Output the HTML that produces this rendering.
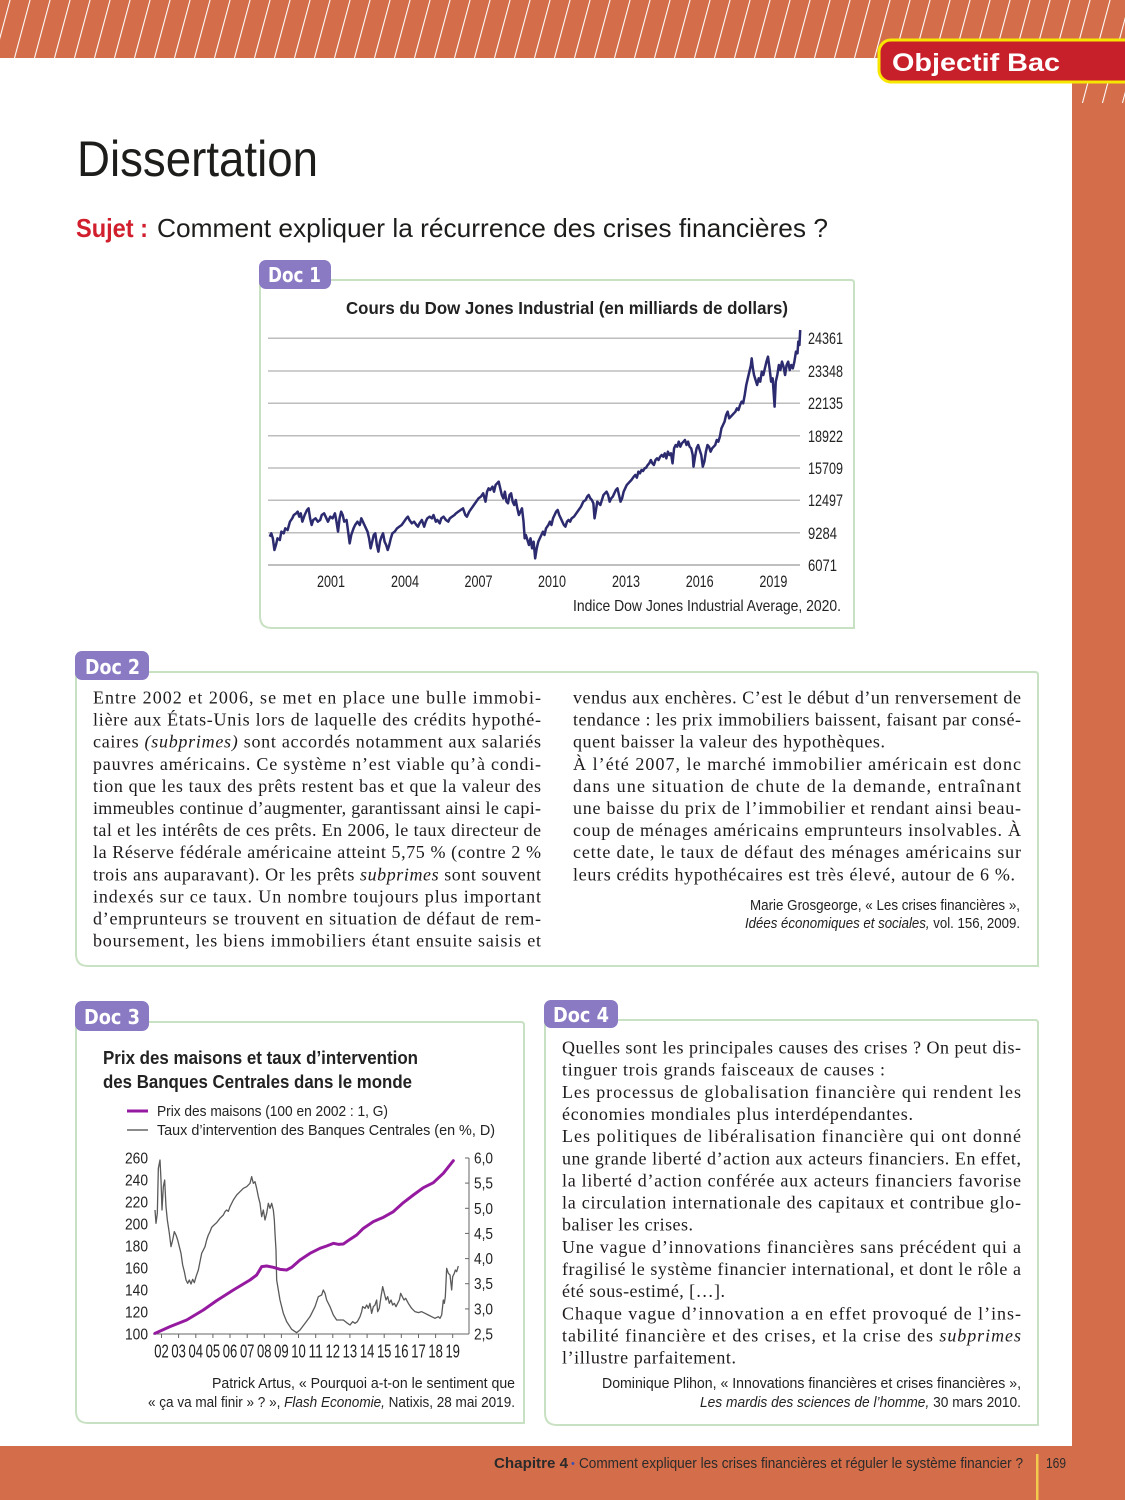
<!DOCTYPE html>
<html lang="fr"><head><meta charset="utf-8"><title>Dissertation</title>
<style>
html,body{margin:0;padding:0;background:#fff;}
svg{display:block;}
.b{font-family:"Liberation Serif",serif;font-size:18px;fill:#1f1b1c;}
.s{font-family:"Liberation Sans",sans-serif;fill:#222;}
.tab{font-family:"DejaVu Sans","Liberation Sans",sans-serif;font-weight:bold;font-size:20px;fill:#fff;}
</style></head>
<body>
<svg width="1125" height="1500" viewBox="0 0 1125 1500" xmlns="http://www.w3.org/2000/svg">
<defs>
<pattern id="h" width="20" height="20" patternUnits="userSpaceOnUse" patternTransform="skewX(-15)">
<rect x="9.5" y="0" width="1.1" height="20" fill="#fff"/>
</pattern>
</defs>
<rect width="1125" height="1500" fill="#fff"/>
<!-- orange frame -->
<rect x="0" y="0" width="1125" height="58" fill="#D46E4A"/>
<rect x="1072" y="0" width="53" height="1500" fill="#D46E4A"/>
<rect x="0" y="1446" width="1125" height="54" fill="#D46E4A"/>
<rect x="0" y="0" width="1125" height="58" fill="url(#h)"/>
<rect x="1072" y="58" width="53" height="45" fill="url(#h)"/>
<!-- badge -->
<path d="M1127,40 H891 a12,12 0 0 0 -12,12 V70 a12,12 0 0 0 12,12 H1127 Z" fill="#C8202B" stroke="#F7E600" stroke-width="3"/>
<text x="892" y="71" class="s" style="font-size:25px;font-weight:bold;fill:#fff" textLength="168" lengthAdjust="spacingAndGlyphs">Objectif Bac</text>

<!-- headings -->
<text x="77" y="176" class="s" style="font-size:50px;fill:#1d1d1b" textLength="241" lengthAdjust="spacingAndGlyphs">Dissertation</text>
<text x="76" y="237" class="s" style="font-size:26px;font-weight:bold;fill:#D11F2E" textLength="72" lengthAdjust="spacingAndGlyphs">Sujet :</text>
<text x="157" y="237" class="s" style="font-size:26px;fill:#1d1d1b" textLength="671" lengthAdjust="spacingAndGlyphs">Comment expliquer la récurrence des crises financières ?</text>

<!-- ================= DOC 1 ================= -->
<path d="M260,280 H851 Q854,280 854,283 V628 H272 Q260,628 260,616 Z" fill="#fff" stroke="#C9E1C3" stroke-width="2"/>
<rect x="259" y="260" width="72" height="29" rx="7" fill="#8A79C3"/>
<text x="268" y="282" class="tab" textLength="53" lengthAdjust="spacingAndGlyphs">Doc 1</text>
<text x="346" y="314" class="s" style="font-size:17.5px;font-weight:bold" textLength="442" lengthAdjust="spacingAndGlyphs">Cours du Dow Jones Industrial (en milliards de dollars)</text>
<g stroke="#BDBDBD" stroke-width="1.5">
<line x1="268" y1="338.3" x2="800" y2="338.3"/>
<line x1="268" y1="371" x2="800" y2="371"/>
<line x1="268" y1="403.3" x2="800" y2="403.3"/>
<line x1="268" y1="435.7" x2="800" y2="435.7"/>
<line x1="268" y1="468" x2="800" y2="468"/>
<line x1="268" y1="500.3" x2="800" y2="500.3"/>
<line x1="268" y1="532.7" x2="800" y2="532.7"/>
<line x1="268" y1="565" x2="800" y2="565" stroke="#AAAAAA"/>
</g>
<g class="s" style="font-size:17px">
<text x="808" y="344" textLength="35" lengthAdjust="spacingAndGlyphs">24361</text>
<text x="808" y="377" textLength="35" lengthAdjust="spacingAndGlyphs">23348</text>
<text x="808" y="409" textLength="35" lengthAdjust="spacingAndGlyphs">22135</text>
<text x="808" y="442" textLength="35" lengthAdjust="spacingAndGlyphs">18922</text>
<text x="808" y="474" textLength="35" lengthAdjust="spacingAndGlyphs">15709</text>
<text x="808" y="506" textLength="35" lengthAdjust="spacingAndGlyphs">12497</text>
<text x="808" y="539" textLength="29" lengthAdjust="spacingAndGlyphs">9284</text>
<text x="808" y="571" textLength="29" lengthAdjust="spacingAndGlyphs">6071</text>
<text x="317" y="587" textLength="28" lengthAdjust="spacingAndGlyphs">2001</text>
<text x="391" y="587" textLength="28" lengthAdjust="spacingAndGlyphs">2004</text>
<text x="464.5" y="587" textLength="28" lengthAdjust="spacingAndGlyphs">2007</text>
<text x="538" y="587" textLength="28" lengthAdjust="spacingAndGlyphs">2010</text>
<text x="612" y="587" textLength="28" lengthAdjust="spacingAndGlyphs">2013</text>
<text x="685.7" y="587" textLength="28" lengthAdjust="spacingAndGlyphs">2016</text>
<text x="759.4" y="587" textLength="28" lengthAdjust="spacingAndGlyphs">2019</text>
</g>
<g transform="translate(255,255) scale(0.38805,0.33333)">
<polyline fill="none" stroke="#2C2B6F" stroke-width="2.5" stroke-linejoin="round" vector-effect="non-scaling-stroke" points="38,845 42,835 46,850 50,885 54,870 58,850 64,855 68,830 74,835 78,820 84,825 90,800 96,790 100,780 106,775 110,770 114,785 118,775 122,800 128,780 134,765 138,760 142,790 146,810 150,795 156,790 162,800 168,795 172,780 178,775 184,790 188,800 194,785 200,790 206,775 210,800 214,830 218,790 222,770 226,780 230,800 236,795 240,830 244,865 248,840 254,820 258,810 264,800 270,810 274,790 278,800 284,815 290,830 294,850 298,880 302,860 306,840 310,835 314,870 318,890 322,860 326,845 330,835 334,860 338,870 342,885 346,870 350,850 354,835 360,830 366,820 372,815 378,810 384,800 390,790 394,785 398,795 404,805 410,800 416,810 420,815 424,805 430,795 436,815 440,800 444,790 450,785 456,790 460,780 466,800 470,795 476,805 480,790 486,785 492,795 498,800 502,790 508,785 514,780 518,775 524,770 530,765 536,760 542,780 546,785 552,770 558,760 564,750 570,740 576,730 582,725 588,715 594,740 598,710 602,700 606,705 612,695 616,710 620,690 624,685 628,680 632,700 636,720 640,730 644,710 648,740 652,745 656,720 660,715 664,740 668,750 672,735 676,760 680,780 684,770 688,760 692,800 695,850 698,840 702,855 706,870 710,850 714,880 718,860 722,910 726,880 730,860 734,850 738,840 742,830 746,840 750,820 756,810 760,800 764,810 768,790 772,780 776,770 780,765 784,780 788,790 792,800 796,810 800,815 804,800 808,795 812,800 816,790 822,785 828,775 834,765 840,755 846,740 852,735 856,725 860,720 864,730 868,735 872,745 875,790 878,770 882,740 886,745 890,750 894,735 898,720 902,715 906,710 910,720 914,740 918,730 922,725 926,715 930,705 934,700 938,720 942,740 946,730 950,710 954,700 958,690 962,685 966,680 970,675 976,665 980,660 984,668 988,650 992,655 996,645 1000,648 1004,640 1008,638 1012,630 1016,625 1020,615 1024,625 1028,630 1032,615 1036,610 1040,615 1044,605 1048,600 1052,605 1056,595 1060,610 1064,590 1068,600 1072,595 1076,625 1080,580 1084,570 1088,575 1092,560 1096,575 1100,565 1104,560 1108,555 1112,570 1116,560 1120,575 1124,580 1128,600 1130,635 1134,605 1138,580 1142,570 1146,585 1150,600 1154,635 1158,620 1162,590 1166,570 1170,575 1174,590 1178,580 1182,575 1186,570 1190,555 1194,560 1198,545 1202,520 1206,510 1210,500 1214,480 1218,470 1222,490 1226,485 1230,480 1234,475 1238,470 1242,460 1246,465 1250,450 1254,440 1258,445 1262,420 1266,390 1270,370 1274,350 1278,330 1280,310 1283,340 1286,360 1290,375 1294,390 1298,370 1302,380 1306,350 1310,360 1314,340 1318,320 1322,305 1326,340 1330,380 1334,370 1337,420 1339,455 1342,380 1346,360 1350,330 1354,345 1358,320 1362,335 1366,360 1370,330 1374,320 1378,345 1382,330 1386,340 1390,320 1394,290 1398,295 1400,260 1403,270 1405,225"/>
</g>
<text x="573" y="611" class="s" style="font-size:16px" textLength="268" lengthAdjust="spacingAndGlyphs">Indice Dow Jones Industrial Average, 2020.</text>

<!-- ================= DOC 2 ================= -->
<path d="M76,672 H1035 Q1038,672 1038,675 V966 H88 Q76,966 76,954 Z" fill="#fff" stroke="#C9E1C3" stroke-width="2"/>
<rect x="75" y="651" width="74" height="29" rx="7" fill="#8A79C3"/>
<text x="85" y="674" class="tab" textLength="55" lengthAdjust="spacingAndGlyphs">Doc 2</text>
<g class="b">
<text x="93" y="703.5" textLength="448" lengthAdjust="spacing">Entre 2002 et 2006, se met en place une bulle immobi-</text>
<text x="93" y="725.6" textLength="448" lengthAdjust="spacing">lière aux États-Unis lors de laquelle des crédits hypothé-</text>
<text x="93" y="747.7" textLength="448" lengthAdjust="spacing">caires <tspan font-style="italic">(subprimes)</tspan> sont accordés notamment aux salariés</text>
<text x="93" y="769.8" textLength="448" lengthAdjust="spacing">pauvres américains. Ce système n’est viable qu’à condi-</text>
<text x="93" y="791.9" textLength="448" lengthAdjust="spacing">tion que les taux des prêts restent bas et que la valeur des</text>
<text x="93" y="814" textLength="448" lengthAdjust="spacing">immeubles continue d’augmenter, garantissant ainsi le capi-</text>
<text x="93" y="836.1" textLength="448" lengthAdjust="spacing">tal et les intérêts de ces prêts. En 2006, le taux directeur de</text>
<text x="93" y="858.2" textLength="448" lengthAdjust="spacing">la Réserve fédérale américaine atteint 5,75 % (contre 2 %</text>
<text x="93" y="880.3" textLength="448" lengthAdjust="spacing">trois ans auparavant). Or les prêts <tspan font-style="italic">subprimes</tspan> sont souvent</text>
<text x="93" y="902.4" textLength="448" lengthAdjust="spacing">indexés sur ce taux. Un nombre toujours plus important</text>
<text x="93" y="924.5" textLength="448" lengthAdjust="spacing">d’emprunteurs se trouvent en situation de défaut de rem-</text>
<text x="93" y="946.6" textLength="448" lengthAdjust="spacing">boursement, les biens immobiliers étant ensuite saisis et</text>

<text x="573" y="703.5" textLength="448" lengthAdjust="spacing">vendus aux enchères. C’est le début d’un renversement de</text>
<text x="573" y="725.6" textLength="448" lengthAdjust="spacing">tendance : les prix immobiliers baissent, faisant par consé-</text>
<text x="573" y="747.7" textLength="312" lengthAdjust="spacing">quent baisser la valeur des hypothèques.</text>
<text x="573" y="769.8" textLength="448" lengthAdjust="spacing">À l’été 2007, le marché immobilier américain est donc</text>
<text x="573" y="791.9" textLength="448" lengthAdjust="spacing">dans une situation de chute de la demande, entraînant</text>
<text x="573" y="814" textLength="448" lengthAdjust="spacing">une baisse du prix de l’immobilier et rendant ainsi beau-</text>
<text x="573" y="836.1" textLength="448" lengthAdjust="spacing">coup de ménages américains emprunteurs insolvables. À</text>
<text x="573" y="858.2" textLength="448" lengthAdjust="spacing">cette date, le taux de défaut des ménages américains sur</text>
<text x="573" y="880.3" textLength="442" lengthAdjust="spacing">leurs crédits hypothécaires est très élevé, autour de 6 %.</text>
</g>
<g class="s" style="font-size:15px">
<text x="750" y="910" textLength="270" lengthAdjust="spacingAndGlyphs">Marie Grosgeorge, « Les crises financières »,</text>
<text x="745" y="928" textLength="275" lengthAdjust="spacingAndGlyphs"><tspan font-style="italic">Idées économiques et sociales,</tspan> vol. 156, 2009.</text>
</g>

<!-- ================= DOC 3 ================= -->
<path d="M76,1022 H521 Q524,1022 524,1025 V1423 H88 Q76,1423 76,1411 Z" fill="#fff" stroke="#C9E1C3" stroke-width="2"/>
<rect x="75" y="1001" width="74" height="30" rx="7" fill="#8A79C3"/>
<text x="84" y="1024" class="tab" textLength="56" lengthAdjust="spacingAndGlyphs">Doc 3</text>
<text x="103" y="1064" class="s" style="font-size:18.5px;font-weight:bold" textLength="315" lengthAdjust="spacingAndGlyphs">Prix des maisons et taux d’intervention</text>
<text x="103" y="1088" class="s" style="font-size:18.5px;font-weight:bold" textLength="309" lengthAdjust="spacingAndGlyphs">des Banques Centrales dans le monde</text>
<line x1="127" y1="1111" x2="148" y2="1111" stroke="#951AA0" stroke-width="3"/>
<line x1="127" y1="1130" x2="148" y2="1130" stroke="#666" stroke-width="1.5"/>
<g class="s" style="font-size:15px">
<text x="157" y="1116" textLength="231" lengthAdjust="spacingAndGlyphs">Prix des maisons (100 en 2002 : 1, G)</text>
<text x="157" y="1135" textLength="338" lengthAdjust="spacingAndGlyphs">Taux d’intervention des Banques Centrales (en %, D)</text>
</g>
<!-- axes -->
<g stroke="#666" stroke-width="1">
<line x1="153" y1="1334" x2="469" y2="1334"/>
<line x1="469" y1="1158" x2="469" y2="1334"/>
<line x1="465" y1="1158" x2="469" y2="1158"/>
<line x1="465" y1="1183.1" x2="469" y2="1183.1"/>
<line x1="465" y1="1208.3" x2="469" y2="1208.3"/>
<line x1="465" y1="1233.4" x2="469" y2="1233.4"/>
<line x1="465" y1="1258.6" x2="469" y2="1258.6"/>
<line x1="465" y1="1283.7" x2="469" y2="1283.7"/>
<line x1="465" y1="1308.9" x2="469" y2="1308.9"/>
<line x1="161.5" y1="1334" x2="161.5" y2="1338"/>
<line x1="178.6" y1="1334" x2="178.6" y2="1338"/>
<line x1="195.8" y1="1334" x2="195.8" y2="1338"/>
<line x1="212.9" y1="1334" x2="212.9" y2="1338"/>
<line x1="230" y1="1334" x2="230" y2="1338"/>
<line x1="247.2" y1="1334" x2="247.2" y2="1338"/>
<line x1="264.3" y1="1334" x2="264.3" y2="1338"/>
<line x1="281.4" y1="1334" x2="281.4" y2="1338"/>
<line x1="298.5" y1="1334" x2="298.5" y2="1338"/>
<line x1="315.7" y1="1334" x2="315.7" y2="1338"/>
<line x1="332.8" y1="1334" x2="332.8" y2="1338"/>
<line x1="349.9" y1="1334" x2="349.9" y2="1338"/>
<line x1="367.1" y1="1334" x2="367.1" y2="1338"/>
<line x1="384.2" y1="1334" x2="384.2" y2="1338"/>
<line x1="401.3" y1="1334" x2="401.3" y2="1338"/>
<line x1="418.5" y1="1334" x2="418.5" y2="1338"/>
<line x1="435.6" y1="1334" x2="435.6" y2="1338"/>
<line x1="452.7" y1="1334" x2="452.7" y2="1338"/>
</g>
<g class="s" style="font-size:16px">
<text x="125" y="1163.5" textLength="23" lengthAdjust="spacingAndGlyphs">260</text>
<text x="125" y="1185.5" textLength="23" lengthAdjust="spacingAndGlyphs">240</text>
<text x="125" y="1207.5" textLength="23" lengthAdjust="spacingAndGlyphs">220</text>
<text x="125" y="1229.5" textLength="23" lengthAdjust="spacingAndGlyphs">200</text>
<text x="125" y="1251.5" textLength="23" lengthAdjust="spacingAndGlyphs">180</text>
<text x="125" y="1273.5" textLength="23" lengthAdjust="spacingAndGlyphs">160</text>
<text x="125" y="1295.5" textLength="23" lengthAdjust="spacingAndGlyphs">140</text>
<text x="125" y="1317.5" textLength="23" lengthAdjust="spacingAndGlyphs">120</text>
<text x="125" y="1339.5" textLength="23" lengthAdjust="spacingAndGlyphs">100</text>
<text x="474" y="1163.5" textLength="19" lengthAdjust="spacingAndGlyphs">6,0</text>
<text x="474" y="1188.6" textLength="19" lengthAdjust="spacingAndGlyphs">5,5</text>
<text x="474" y="1213.8" textLength="19" lengthAdjust="spacingAndGlyphs">5,0</text>
<text x="474" y="1238.9" textLength="19" lengthAdjust="spacingAndGlyphs">4,5</text>
<text x="474" y="1264.1" textLength="19" lengthAdjust="spacingAndGlyphs">4,0</text>
<text x="474" y="1289.2" textLength="19" lengthAdjust="spacingAndGlyphs">3,5</text>
<text x="474" y="1314.4" textLength="19" lengthAdjust="spacingAndGlyphs">3,0</text>
<text x="474" y="1339.5" textLength="19" lengthAdjust="spacingAndGlyphs">2,5</text>
</g>
<g class="s" style="font-size:18px" text-anchor="middle">
<text x="161.5" y="1357.5" textLength="14.5" lengthAdjust="spacingAndGlyphs">02</text>
<text x="178.6" y="1357.5" textLength="14.5" lengthAdjust="spacingAndGlyphs">03</text>
<text x="195.8" y="1357.5" textLength="14.5" lengthAdjust="spacingAndGlyphs">04</text>
<text x="212.9" y="1357.5" textLength="14.5" lengthAdjust="spacingAndGlyphs">05</text>
<text x="230" y="1357.5" textLength="14.5" lengthAdjust="spacingAndGlyphs">06</text>
<text x="247.2" y="1357.5" textLength="14.5" lengthAdjust="spacingAndGlyphs">07</text>
<text x="264.3" y="1357.5" textLength="14.5" lengthAdjust="spacingAndGlyphs">08</text>
<text x="281.4" y="1357.5" textLength="14.5" lengthAdjust="spacingAndGlyphs">09</text>
<text x="298.5" y="1357.5" textLength="14.5" lengthAdjust="spacingAndGlyphs">10</text>
<text x="315.7" y="1357.5" textLength="14.5" lengthAdjust="spacingAndGlyphs">11</text>
<text x="332.8" y="1357.5" textLength="14.5" lengthAdjust="spacingAndGlyphs">12</text>
<text x="349.9" y="1357.5" textLength="14.5" lengthAdjust="spacingAndGlyphs">13</text>
<text x="367.1" y="1357.5" textLength="14.5" lengthAdjust="spacingAndGlyphs">14</text>
<text x="384.2" y="1357.5" textLength="14.5" lengthAdjust="spacingAndGlyphs">15</text>
<text x="401.3" y="1357.5" textLength="14.5" lengthAdjust="spacingAndGlyphs">16</text>
<text x="418.5" y="1357.5" textLength="14.5" lengthAdjust="spacingAndGlyphs">17</text>
<text x="435.6" y="1357.5" textLength="14.5" lengthAdjust="spacingAndGlyphs">18</text>
<text x="452.7" y="1357.5" textLength="14.5" lengthAdjust="spacingAndGlyphs">19</text>
</g>
<g transform="translate(110,1140) scale(0.33333)">
<polyline fill="none" stroke="#5A5A5A" stroke-width="1.3" stroke-linejoin="round" vector-effect="non-scaling-stroke" points="135,210 138,250 142,220 145,85 150,60 153,120 156,210 160,140 164,120 168,200 172,240 178,280 183,320 188,300 193,275 198,285 203,300 208,320 213,340 218,375 223,395 228,420 233,430 238,420 243,432 248,418 253,428 258,410 265,390 270,365 275,340 280,330 285,320 290,300 295,285 300,275 305,262 312,255 320,248 330,235 340,225 345,215 350,210 355,214 360,200 370,180 380,165 390,155 400,145 410,140 420,130 425,110 430,130 435,125 440,145 445,170 450,190 455,230 460,210 465,240 470,220 475,190 480,205 485,190 490,210 493,240 495,280 498,330 500,420 505,450 510,480 520,520 530,545 545,568 560,578 570,570 585,550 600,530 615,500 625,470 635,465 640,450 645,460 650,480 660,500 670,525 680,540 690,540 700,540 710,548 720,555 728,545 735,550 742,545 750,530 755,515 758,500 765,505 770,495 775,505 780,490 785,520 790,500 795,495 800,480 803,515 808,505 813,470 818,440 823,460 828,480 833,470 838,490 843,480 848,495 853,490 858,500 863,490 868,480 872,460 877,470 882,480 887,475 895,490 905,505 915,515 925,518 935,515 945,520 955,525 965,530 975,535 985,530 990,535 995,525 1000,480 1003,490 1006,470 1010,385 1015,400 1020,405 1025,450 1028,410 1033,400 1036,390 1040,395 1045,378"/>
<polyline fill="none" stroke="#951AA0" stroke-width="3" stroke-linejoin="round" stroke-linecap="round" vector-effect="non-scaling-stroke" points="135,580 180,560 230,540 280,510 320,482 370,450 420,420 440,405 455,380 470,378 490,382 510,388 530,390 545,382 570,360 600,340 630,325 650,318 670,310 685,313 700,312 720,298 740,285 760,265 790,245 820,232 850,215 880,188 910,165 940,143 970,128 1000,100 1030,62"/>
</g>
<g class="s" style="font-size:15px">
<text x="212" y="1388" textLength="303" lengthAdjust="spacingAndGlyphs">Patrick Artus, « Pourquoi a-t-on le sentiment que</text>
<text x="148" y="1407" textLength="367" lengthAdjust="spacingAndGlyphs">« ça va mal finir » ? », <tspan font-style="italic">Flash Economie,</tspan> Natixis, 28 mai 2019.</text>
</g>

<!-- ================= DOC 4 ================= -->
<path d="M545,1020 H1035 Q1038,1020 1038,1023 V1425 H557 Q545,1425 545,1413 Z" fill="#fff" stroke="#C9E1C3" stroke-width="2"/>
<rect x="544" y="1000" width="74" height="28" rx="7" fill="#8A79C3"/>
<text x="553" y="1022" class="tab" textLength="56" lengthAdjust="spacingAndGlyphs">Doc 4</text>
<g class="b">
<text x="562" y="1053.5" textLength="459" lengthAdjust="spacing">Quelles sont les principales causes des crises ? On peut dis-</text>
<text x="562" y="1075.7" textLength="323" lengthAdjust="spacing">tinguer trois grands faisceaux de causes :</text>
<text x="562" y="1097.8" textLength="459" lengthAdjust="spacing">Les processus de globalisation financière qui rendent les</text>
<text x="562" y="1120" textLength="351" lengthAdjust="spacing">économies mondiales plus interdépendantes.</text>
<text x="562" y="1142.1" textLength="459" lengthAdjust="spacing">Les politiques de libéralisation financière qui ont donné</text>
<text x="562" y="1164.3" textLength="459" lengthAdjust="spacing">une grande liberté d’action aux acteurs financiers. En effet,</text>
<text x="562" y="1186.4" textLength="459" lengthAdjust="spacing">la liberté d’action conférée aux acteurs financiers favorise</text>
<text x="562" y="1208.6" textLength="459" lengthAdjust="spacing">la circulation internationale des capitaux et contribue glo-</text>
<text x="562" y="1230.7" textLength="131" lengthAdjust="spacing">baliser les crises.</text>
<text x="562" y="1252.9" textLength="459" lengthAdjust="spacing">Une vague d’innovations financières sans précédent qui a</text>
<text x="562" y="1275" textLength="459" lengthAdjust="spacing">fragilisé le système financier international, et dont le rôle a</text>
<text x="562" y="1297.2" textLength="163" lengthAdjust="spacing">été sous-estimé, […].</text>
<text x="562" y="1319.3" textLength="459" lengthAdjust="spacing">Chaque vague d’innovation a en effet provoqué de l’ins-</text>
<text x="562" y="1341.5" textLength="459" lengthAdjust="spacing">tabilité financière et des crises, et la crise des <tspan font-style="italic">subprimes</tspan></text>
<text x="562" y="1363.6" textLength="174" lengthAdjust="spacing">l’illustre parfaitement.</text>
</g>
<g class="s" style="font-size:15px">
<text x="602" y="1388" textLength="419" lengthAdjust="spacingAndGlyphs">Dominique Plihon, « Innovations financières et crises financières »,</text>
<text x="700" y="1407" textLength="321" lengthAdjust="spacingAndGlyphs"><tspan font-style="italic">Les mardis des sciences de l’homme,</tspan> 30 mars 2010.</text>
</g>

<!-- footer -->
<rect x="1036" y="1454" width="2.5" height="46" fill="#F2C94C"/>
<g class="s" style="font-size:14.5px;fill:#2a2a2a">
<text x="494" y="1468" style="font-weight:bold" textLength="74" lengthAdjust="spacingAndGlyphs">Chapitre 4</text>
<text x="571" y="1467" style="fill:#3A4FB5;font-size:11px">•</text>
<text x="579" y="1468" textLength="444" lengthAdjust="spacingAndGlyphs">Comment expliquer les crises financières et réguler le système financier ?</text>
<text x="1046" y="1468" textLength="20" lengthAdjust="spacingAndGlyphs">169</text>
</g>
</svg>
</body></html>
